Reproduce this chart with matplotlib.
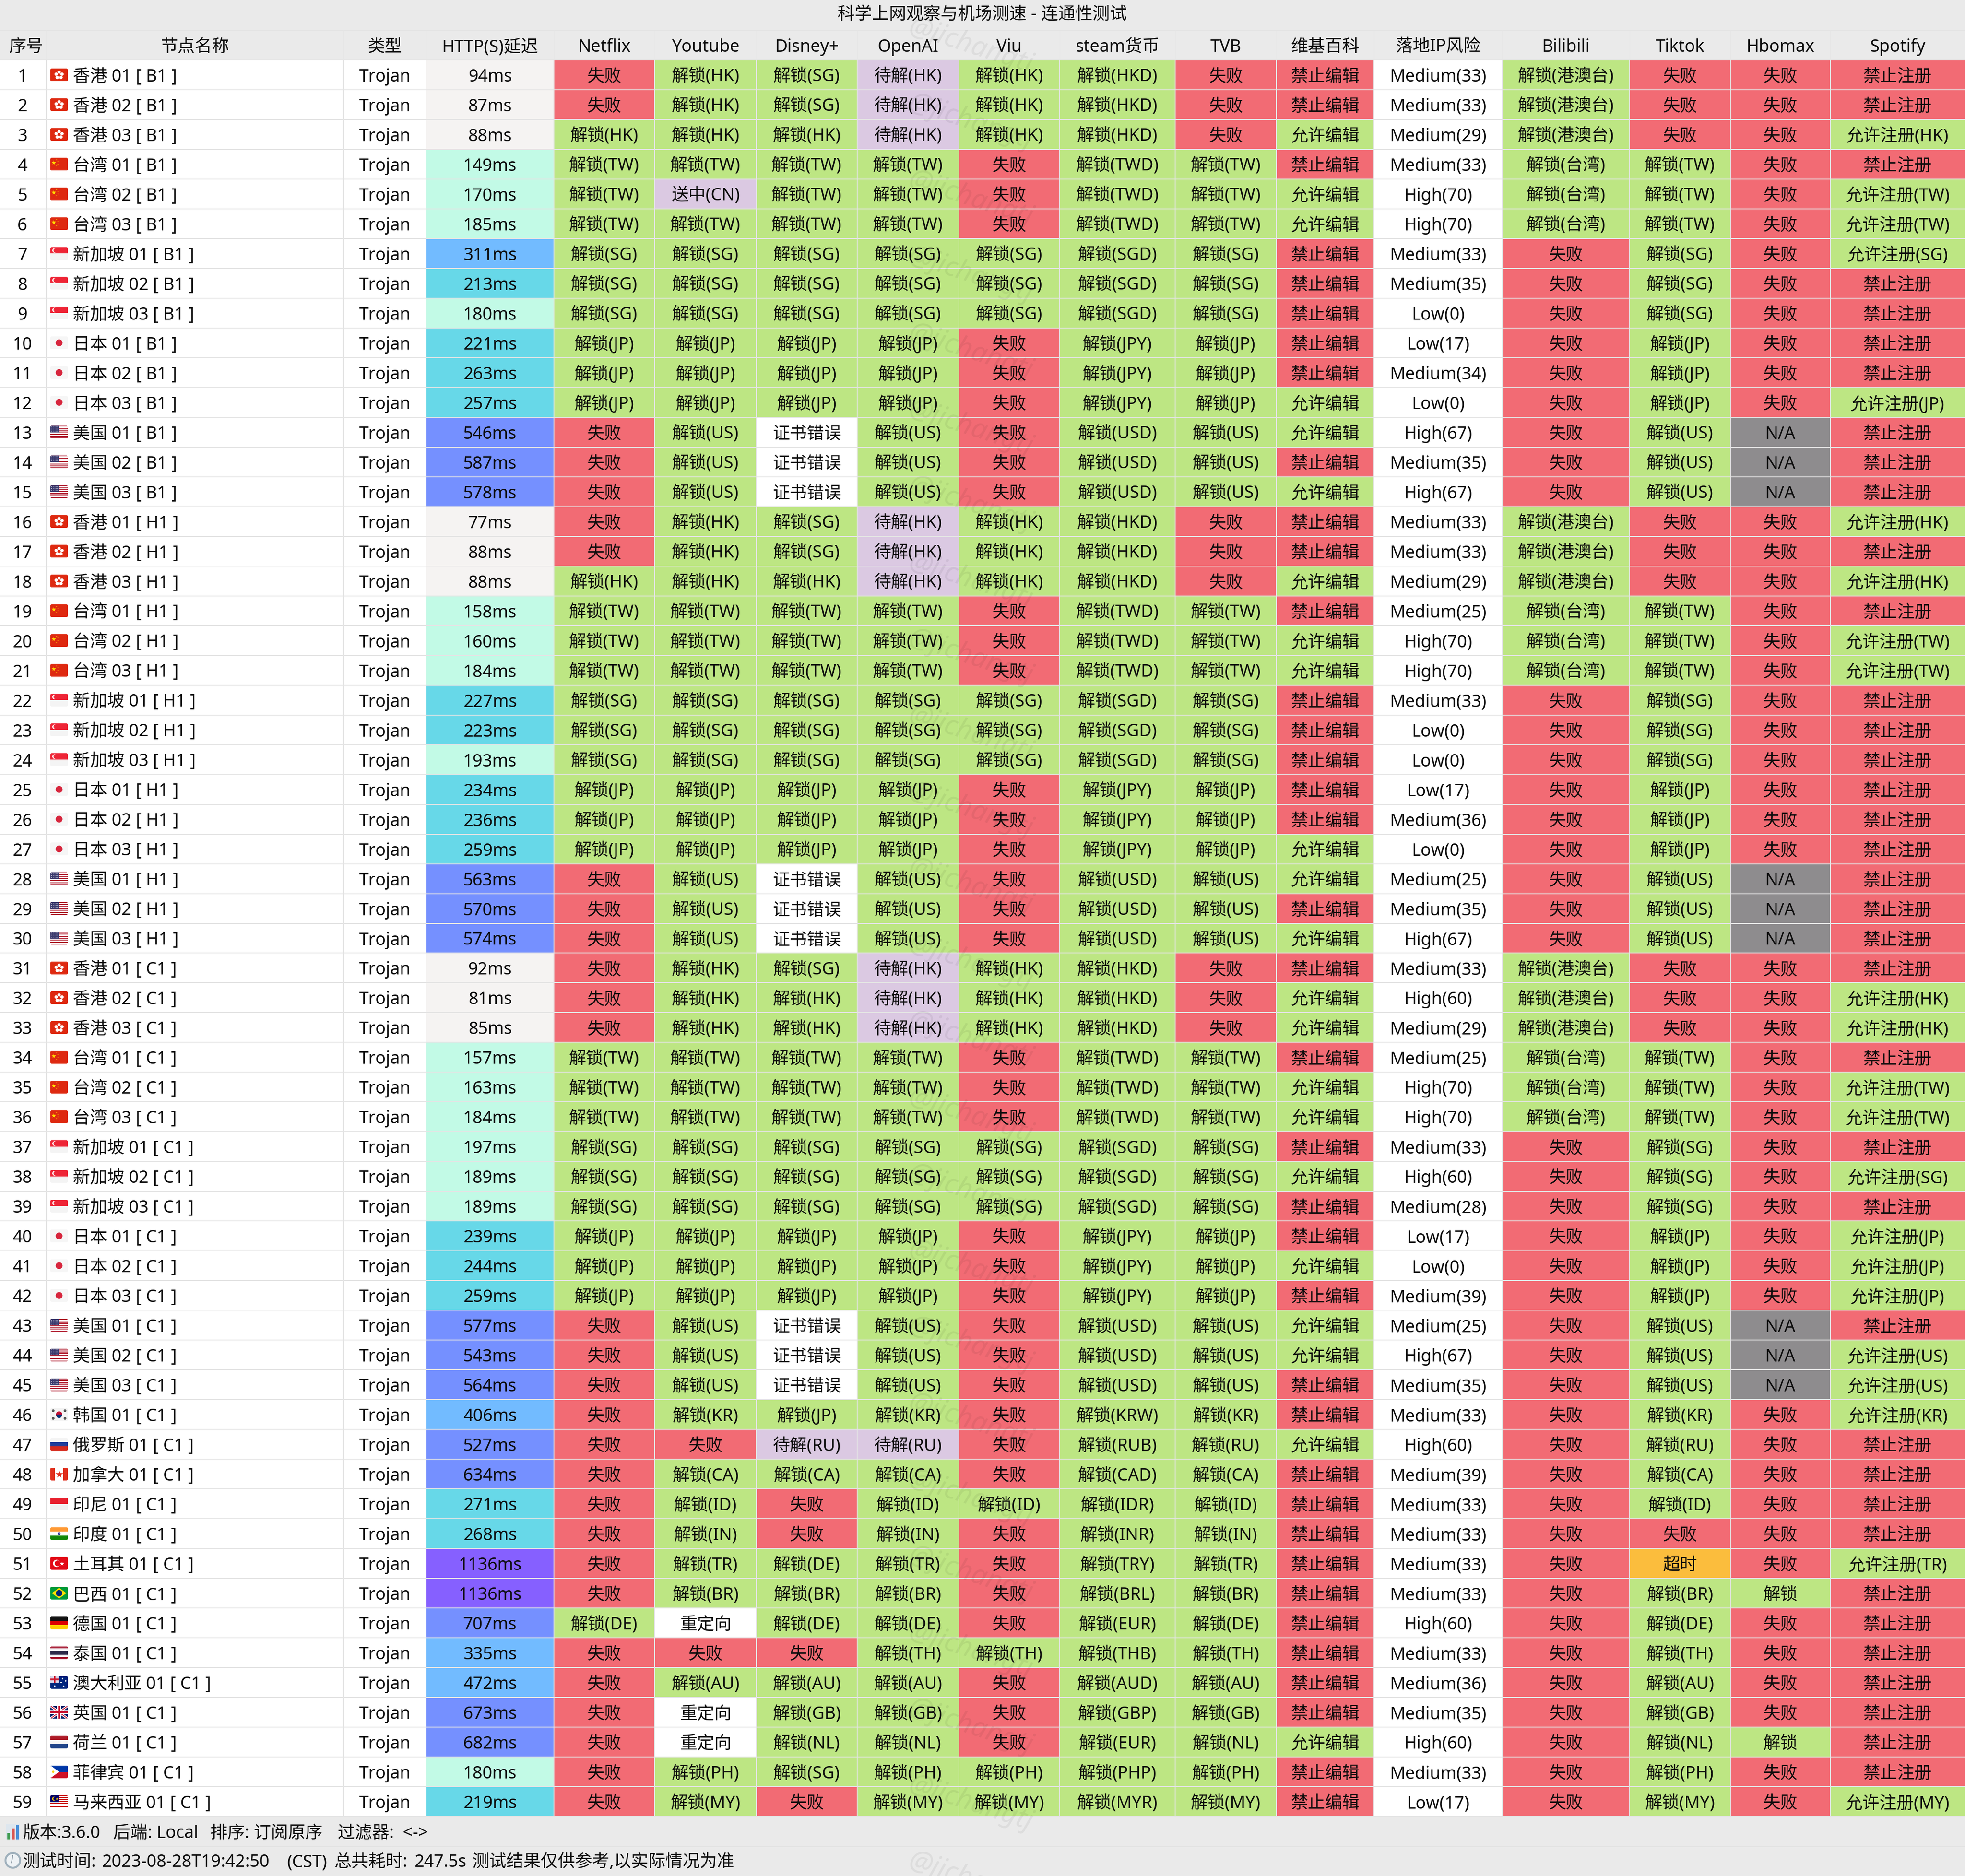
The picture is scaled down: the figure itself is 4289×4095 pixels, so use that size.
#!/usr/bin/env python3
import matplotlib
matplotlib.use('Agg')
import matplotlib.pyplot as plt
from matplotlib.patches import Rectangle, Circle, Polygon, FancyBboxPatch

plt.rcParams['font.family'] = ['Noto Sans', 'Noto Sans CJK SC', 'DejaVu Sans']

title = '科学上网观察与机场测速 - 连通性测试'
footer1 = ['版本:3.6.0', '后端: Local', '排序: 订阅原序', '过滤器:  <->']
footer2 = ['测试时间:', '2023-08-28T19:42:50', '(CST)', '总共耗时:', '247.5s', '测试结果仅供参考,以实际情况为准']
watermark = '@jichangtj'

headers = ['序号', '节点名称', '类型', 'HTTP(S)延迟', 'Netflix', 'Youtube', 'Disney+', 'OpenAI', 'Viu',
           'steam货币', 'TVB', '维基百科', '落地IP风险', 'Bilibili', 'Tiktok', 'Hbomax', 'Spotify']

regions = """香港 香港 香港 台湾 台湾 台湾 新加坡 新加坡 新加坡 日本 日本 日本 美国 美国 美国
香港 香港 香港 台湾 台湾 台湾 新加坡 新加坡 新加坡 日本 日本 日本 美国 美国 美国
香港 香港 香港 台湾 台湾 台湾 新加坡 新加坡 新加坡 日本 日本 日本 美国 美国 美国
韩国 俄罗斯 加拿大 印尼 印度 土耳其 巴西 德国 泰国 澳大利亚 英国 荷兰 菲律宾 马来西亚""".split()
node_nums = """01 02 03 01 02 03 01 02 03 01 02 03 01 02 03
01 02 03 01 02 03 01 02 03 01 02 03 01 02 03
01 02 03 01 02 03 01 02 03 01 02 03 01 02 03
01 01 01 01 01 01 01 01 01 01 01 01 01 01""".split()
node_tags = """B1 B1 B1 B1 B1 B1 B1 B1 B1 B1 B1 B1 B1 B1 B1
H1 H1 H1 H1 H1 H1 H1 H1 H1 H1 H1 H1 H1 H1 H1
C1 C1 C1 C1 C1 C1 C1 C1 C1 C1 C1 C1 C1 C1 C1
C1 C1 C1 C1 C1 C1 C1 C1 C1 C1 C1 C1 C1 C1""".split()

latency = [94, 87, 88, 149, 170, 185, 311, 213, 180, 221, 263, 257, 546, 587, 578,
           77, 88, 88, 158, 160, 184, 227, 223, 193, 234, 236, 259, 563, 570, 574,
           92, 81, 85, 157, 163, 184, 197, 189, 189, 239, 244, 259, 577, 543, 564,
           406, 527, 634, 271, 268, 1136, 1136, 707, 335, 472, 673, 682, 180, 219]

netflix = """失败 失败 解锁(HK) 解锁(TW) 解锁(TW) 解锁(TW) 解锁(SG) 解锁(SG) 解锁(SG) 解锁(JP) 解锁(JP) 解锁(JP) 失败 失败 失败
失败 失败 解锁(HK) 解锁(TW) 解锁(TW) 解锁(TW) 解锁(SG) 解锁(SG) 解锁(SG) 解锁(JP) 解锁(JP) 解锁(JP) 失败 失败 失败
失败 失败 失败 解锁(TW) 解锁(TW) 解锁(TW) 解锁(SG) 解锁(SG) 解锁(SG) 解锁(JP) 解锁(JP) 解锁(JP) 失败 失败 失败
失败 失败 失败 失败 失败 失败 失败 解锁(DE) 失败 失败 失败 失败 失败 失败""".split()
youtube = """解锁(HK) 解锁(HK) 解锁(HK) 解锁(TW) 送中(CN) 解锁(TW) 解锁(SG) 解锁(SG) 解锁(SG) 解锁(JP) 解锁(JP) 解锁(JP) 解锁(US) 解锁(US) 解锁(US)
解锁(HK) 解锁(HK) 解锁(HK) 解锁(TW) 解锁(TW) 解锁(TW) 解锁(SG) 解锁(SG) 解锁(SG) 解锁(JP) 解锁(JP) 解锁(JP) 解锁(US) 解锁(US) 解锁(US)
解锁(HK) 解锁(HK) 解锁(HK) 解锁(TW) 解锁(TW) 解锁(TW) 解锁(SG) 解锁(SG) 解锁(SG) 解锁(JP) 解锁(JP) 解锁(JP) 解锁(US) 解锁(US) 解锁(US)
解锁(KR) 失败 解锁(CA) 解锁(ID) 解锁(IN) 解锁(TR) 解锁(BR) 重定向 失败 解锁(AU) 重定向 重定向 解锁(PH) 解锁(MY)""".split()
disney = """解锁(SG) 解锁(SG) 解锁(HK) 解锁(TW) 解锁(TW) 解锁(TW) 解锁(SG) 解锁(SG) 解锁(SG) 解锁(JP) 解锁(JP) 解锁(JP) 证书错误 证书错误 证书错误
解锁(SG) 解锁(SG) 解锁(HK) 解锁(TW) 解锁(TW) 解锁(TW) 解锁(SG) 解锁(SG) 解锁(SG) 解锁(JP) 解锁(JP) 解锁(JP) 证书错误 证书错误 证书错误
解锁(SG) 解锁(HK) 解锁(HK) 解锁(TW) 解锁(TW) 解锁(TW) 解锁(SG) 解锁(SG) 解锁(SG) 解锁(JP) 解锁(JP) 解锁(JP) 证书错误 证书错误 证书错误
解锁(JP) 待解(RU) 解锁(CA) 失败 失败 解锁(DE) 解锁(BR) 解锁(DE) 失败 解锁(AU) 解锁(GB) 解锁(NL) 解锁(SG) 失败""".split()
openai = """待解(HK) 待解(HK) 待解(HK) 解锁(TW) 解锁(TW) 解锁(TW) 解锁(SG) 解锁(SG) 解锁(SG) 解锁(JP) 解锁(JP) 解锁(JP) 解锁(US) 解锁(US) 解锁(US)
待解(HK) 待解(HK) 待解(HK) 解锁(TW) 解锁(TW) 解锁(TW) 解锁(SG) 解锁(SG) 解锁(SG) 解锁(JP) 解锁(JP) 解锁(JP) 解锁(US) 解锁(US) 解锁(US)
待解(HK) 待解(HK) 待解(HK) 解锁(TW) 解锁(TW) 解锁(TW) 解锁(SG) 解锁(SG) 解锁(SG) 解锁(JP) 解锁(JP) 解锁(JP) 解锁(US) 解锁(US) 解锁(US)
解锁(KR) 待解(RU) 解锁(CA) 解锁(ID) 解锁(IN) 解锁(TR) 解锁(BR) 解锁(DE) 解锁(TH) 解锁(AU) 解锁(GB) 解锁(NL) 解锁(PH) 解锁(MY)""".split()
viu = """解锁(HK) 解锁(HK) 解锁(HK) 失败 失败 失败 解锁(SG) 解锁(SG) 解锁(SG) 失败 失败 失败 失败 失败 失败
解锁(HK) 解锁(HK) 解锁(HK) 失败 失败 失败 解锁(SG) 解锁(SG) 解锁(SG) 失败 失败 失败 失败 失败 失败
解锁(HK) 解锁(HK) 解锁(HK) 失败 失败 失败 解锁(SG) 解锁(SG) 解锁(SG) 失败 失败 失败 失败 失败 失败
失败 失败 失败 解锁(ID) 失败 失败 失败 失败 解锁(TH) 失败 失败 失败 解锁(PH) 解锁(MY)""".split()
steam = """解锁(HKD) 解锁(HKD) 解锁(HKD) 解锁(TWD) 解锁(TWD) 解锁(TWD) 解锁(SGD) 解锁(SGD) 解锁(SGD) 解锁(JPY) 解锁(JPY) 解锁(JPY) 解锁(USD) 解锁(USD) 解锁(USD)
解锁(HKD) 解锁(HKD) 解锁(HKD) 解锁(TWD) 解锁(TWD) 解锁(TWD) 解锁(SGD) 解锁(SGD) 解锁(SGD) 解锁(JPY) 解锁(JPY) 解锁(JPY) 解锁(USD) 解锁(USD) 解锁(USD)
解锁(HKD) 解锁(HKD) 解锁(HKD) 解锁(TWD) 解锁(TWD) 解锁(TWD) 解锁(SGD) 解锁(SGD) 解锁(SGD) 解锁(JPY) 解锁(JPY) 解锁(JPY) 解锁(USD) 解锁(USD) 解锁(USD)
解锁(KRW) 解锁(RUB) 解锁(CAD) 解锁(IDR) 解锁(INR) 解锁(TRY) 解锁(BRL) 解锁(EUR) 解锁(THB) 解锁(AUD) 解锁(GBP) 解锁(EUR) 解锁(PHP) 解锁(MYR)""".split()
tvb = """失败 失败 失败 解锁(TW) 解锁(TW) 解锁(TW) 解锁(SG) 解锁(SG) 解锁(SG) 解锁(JP) 解锁(JP) 解锁(JP) 解锁(US) 解锁(US) 解锁(US)
失败 失败 失败 解锁(TW) 解锁(TW) 解锁(TW) 解锁(SG) 解锁(SG) 解锁(SG) 解锁(JP) 解锁(JP) 解锁(JP) 解锁(US) 解锁(US) 解锁(US)
失败 失败 失败 解锁(TW) 解锁(TW) 解锁(TW) 解锁(SG) 解锁(SG) 解锁(SG) 解锁(JP) 解锁(JP) 解锁(JP) 解锁(US) 解锁(US) 解锁(US)
解锁(KR) 解锁(RU) 解锁(CA) 解锁(ID) 解锁(IN) 解锁(TR) 解锁(BR) 解锁(DE) 解锁(TH) 解锁(AU) 解锁(GB) 解锁(NL) 解锁(PH) 解锁(MY)""".split()
wiki = """禁止编辑 禁止编辑 允许编辑 禁止编辑 允许编辑 允许编辑 禁止编辑 禁止编辑 禁止编辑 禁止编辑 禁止编辑 允许编辑 允许编辑 禁止编辑 允许编辑
禁止编辑 禁止编辑 允许编辑 禁止编辑 允许编辑 允许编辑 禁止编辑 禁止编辑 禁止编辑 禁止编辑 禁止编辑 允许编辑 允许编辑 禁止编辑 允许编辑
禁止编辑 允许编辑 允许编辑 禁止编辑 允许编辑 允许编辑 禁止编辑 允许编辑 禁止编辑 禁止编辑 允许编辑 禁止编辑 允许编辑 允许编辑 禁止编辑
禁止编辑 允许编辑 禁止编辑 禁止编辑 禁止编辑 禁止编辑 禁止编辑 禁止编辑 禁止编辑 禁止编辑 禁止编辑 允许编辑 禁止编辑 禁止编辑""".split()
ip_risk = """Medium(33) Medium(33) Medium(29) Medium(33) High(70) High(70) Medium(33) Medium(35) Low(0) Low(17) Medium(34) Low(0) High(67) Medium(35) High(67)
Medium(33) Medium(33) Medium(29) Medium(25) High(70) High(70) Medium(33) Low(0) Low(0) Low(17) Medium(36) Low(0) Medium(25) Medium(35) High(67)
Medium(33) High(60) Medium(29) Medium(25) High(70) High(70) Medium(33) High(60) Medium(28) Low(17) Low(0) Medium(39) Medium(25) High(67) Medium(35)
Medium(33) High(60) Medium(39) Medium(33) Medium(33) Medium(33) Medium(33) High(60) Medium(33) Medium(36) Medium(35) High(60) Medium(33) Low(17)""".split()
bilibili = """解锁(港澳台) 解锁(港澳台) 解锁(港澳台) 解锁(台湾) 解锁(台湾) 解锁(台湾) 失败 失败 失败 失败 失败 失败 失败 失败 失败
解锁(港澳台) 解锁(港澳台) 解锁(港澳台) 解锁(台湾) 解锁(台湾) 解锁(台湾) 失败 失败 失败 失败 失败 失败 失败 失败 失败
解锁(港澳台) 解锁(港澳台) 解锁(港澳台) 解锁(台湾) 解锁(台湾) 解锁(台湾) 失败 失败 失败 失败 失败 失败 失败 失败 失败
失败 失败 失败 失败 失败 失败 失败 失败 失败 失败 失败 失败 失败 失败""".split()
tiktok = """失败 失败 失败 解锁(TW) 解锁(TW) 解锁(TW) 解锁(SG) 解锁(SG) 解锁(SG) 解锁(JP) 解锁(JP) 解锁(JP) 解锁(US) 解锁(US) 解锁(US)
失败 失败 失败 解锁(TW) 解锁(TW) 解锁(TW) 解锁(SG) 解锁(SG) 解锁(SG) 解锁(JP) 解锁(JP) 解锁(JP) 解锁(US) 解锁(US) 解锁(US)
失败 失败 失败 解锁(TW) 解锁(TW) 解锁(TW) 解锁(SG) 解锁(SG) 解锁(SG) 解锁(JP) 解锁(JP) 解锁(JP) 解锁(US) 解锁(US) 解锁(US)
解锁(KR) 解锁(RU) 解锁(CA) 解锁(ID) 失败 超时 解锁(BR) 解锁(DE) 解锁(TH) 解锁(AU) 解锁(GB) 解锁(NL) 解锁(PH) 解锁(MY)""".split()
hbomax = """失败 失败 失败 失败 失败 失败 失败 失败 失败 失败 失败 失败 N/A N/A N/A
失败 失败 失败 失败 失败 失败 失败 失败 失败 失败 失败 失败 N/A N/A N/A
失败 失败 失败 失败 失败 失败 失败 失败 失败 失败 失败 失败 N/A N/A N/A
失败 失败 失败 失败 失败 失败 解锁 失败 失败 失败 失败 解锁 失败 失败""".split()
spotify = """禁止注册 禁止注册 允许注册(HK) 禁止注册 允许注册(TW) 允许注册(TW) 允许注册(SG) 禁止注册 禁止注册 禁止注册 禁止注册 允许注册(JP) 禁止注册 禁止注册 禁止注册
允许注册(HK) 禁止注册 允许注册(HK) 禁止注册 允许注册(TW) 允许注册(TW) 禁止注册 禁止注册 禁止注册 禁止注册 禁止注册 禁止注册 禁止注册 禁止注册 禁止注册
禁止注册 允许注册(HK) 允许注册(HK) 禁止注册 允许注册(TW) 允许注册(TW) 禁止注册 允许注册(SG) 禁止注册 允许注册(JP) 允许注册(JP) 允许注册(JP) 禁止注册 允许注册(US) 允许注册(US)
允许注册(KR) 禁止注册 禁止注册 禁止注册 禁止注册 允许注册(TR) 禁止注册 禁止注册 禁止注册 禁止注册 禁止注册 禁止注册 禁止注册 允许注册(MY)""".split()

# layout in pixels of the screenshot
W, H = 4289, 4095
col_edges = [0, 101, 750, 930, 1209, 1429, 1651, 1871, 2093, 2313, 2565, 2786, 2999, 3279, 3557, 3777, 3995, 4289]
head_top, table_top, table_bottom = 66, 131, 3965
row_h = (table_bottom - table_top) / len(latency)
FS = 27

RED, GREEN, PURPLE, WHITE = '#F26B74', '#BDE683', '#DBC9E2', '#FFFFFF'
GRAY, ORANGE, BAND, LINE = '#8E8C8E', '#FBBD3D', '#EAEAEA', '#E4E4E4'
INK = '#0C0C0C'


def status_color(s):
    if s.startswith(('失败', '禁止')):
        return RED
    if s.startswith(('解锁', '允许')):
        return GREEN
    if s.startswith(('待解', '送中')):
        return PURPLE
    if s == 'N/A':
        return GRAY
    if s == '超时':
        return ORANGE
    return WHITE


def latency_color(ms):
    if ms < 100:
        return '#F5F3F2'
    if ms < 200:
        return '#C2FAE6'
    if ms < 300:
        return '#67D8E8'
    if ms < 500:
        return '#72BBFF'
    if ms < 1000:
        return '#7590FF'
    return '#8660FF'


def draw_flag(ax, region, yc):
    x0, y0, w, h = 110, yc - 14, 38, 28
    clip = FancyBboxPatch((x0, y0), w, h, boxstyle='round,pad=0,rounding_size=3', fc='none', ec='none')
    ax.add_patch(clip)

    def add(p):
        p.set_zorder(3)
        ax.add_patch(p)
        p.set_clip_path(clip)

    def rect(u, v, du, dv, c):
        add(Rectangle((x0 + u * w, y0 + v * h), du * w, dv * h, fc=c, ec='none'))

    def circ(u, v, r, c):
        add(Circle((x0 + u * w, y0 + v * h), r, fc=c, ec='none'))

    def poly(pts, c):
        add(Polygon([(x0 + u * w, y0 + v * h) for u, v in pts], fc=c, ec='none'))

    def stripes(cs):
        for i, c in enumerate(cs):
            rect(0, i / len(cs), 1, 1 / len(cs), c)

    def star(u, v, ms, c):
        ax.plot(x0 + u * w, y0 + v * h, marker='*', ms=ms, color=c, mec='none', zorder=3.5)

    if region == '香港':
        rect(0, 0, 1, 1, '#DE2910')
        for du, dv in [(0, -.22), (.17, -.06), (.11, .2), (-.11, .2), (-.17, -.06)]:
            circ(.5 + du, .5 + dv, 3.6, '#FFFFFF')
    elif region == '台湾':
        rect(0, 0, 1, 1, '#DE2910')
        star(.18, .38, 8, '#FFDE00')
        for u, v in [(.36, .16), (.43, .3), (.43, .5), (.36, .64)]:
            circ(u, v, .9, '#FFDE00')
    elif region == '新加坡':
        stripes(['#EE2536', '#F4F4F4'])
        circ(.24, .26, 5, '#FFFFFF')
        circ(.3, .26, 4.6, '#EE2536')
    elif region == '日本':
        rect(0, 0, 1, 1, '#F6F6F6')
        circ(.5, .5, 7.5, '#D7263D')
    elif region == '美国':
        stripes(['#B22234', '#FFFFFF'] * 6 + ['#B22234'])
        rect(0, 0, .48, .52, '#3C3B6E')
        for u in (.08, .2, .32, .42):
            for v in (.1, .26, .42):
                circ(u, v, .8, '#FFFFFF')
    elif region == '韩国':
        rect(0, 0, 1, 1, '#F4F4F4')
        circ(.5, .5, 7, '#C60C30')
        poly([(.33, .5), (.67, .5), (.62, .72), (.5, .78), (.38, .72)], '#003478')
        for u, v in [(.16, .2), (.84, .2), (.16, .8), (.84, .8)]:
            circ(u, v, 3, '#555555')
    elif region == '俄罗斯':
        stripes(['#F4F4F4', '#1F3E9C', '#D52B1E'])
    elif region == '加拿大':
        rect(0, 0, 1, 1, '#FFFFFF')
        rect(0, 0, .26, 1, '#E0301E')
        rect(.74, 0, .26, 1, '#E0301E')
        star(.5, .5, 13, '#E0301E')
    elif region == '印尼':
        stripes(['#E8202E', '#F0F0F0'])
    elif region == '印度':
        stripes(['#FF9933', '#FFFFFF', '#138808'])
        circ(.5, .5, 3.2, '#000080')
        circ(.5, .5, 1.6, '#FFFFFF')
    elif region == '土耳其':
        rect(0, 0, 1, 1, '#E30A17')
        circ(.36, .5, 8, '#FFFFFF')
        circ(.42, .5, 6.4, '#E30A17')
        star(.66, .5, 7, '#FFFFFF')
    elif region == '巴西':
        rect(0, 0, 1, 1, '#009B3A')
        poly([(.08, .5), (.5, .08), (.92, .5), (.5, .92)], '#FEDF00')
        circ(.5, .5, 7, '#002776')
    elif region == '德国':
        stripes(['#111111', '#DD0000', '#FFCE00'])
    elif region == '泰国':
        for v, dv, c in [(0, .17, '#A51931'), (.17, .16, '#F4F5F8'), (.33, .34, '#2D2A4A'),
                         (.67, .16, '#F4F5F8'), (.83, .17, '#A51931')]:
            rect(0, v, 1, dv, c)
    elif region == '澳大利亚':
        rect(0, 0, 1, 1, '#00247D')
        rect(0, 0, .5, .52, '#DDDDEE')
        rect(.2, 0, .1, .52, '#CC142B')
        rect(0, .2, .5, .12, '#CC142B')
        for u, v in [(.7, .2), (.88, .38), (.62, .5), (.76, .8), (.25, .78)]:
            circ(u, v, 1.6, '#FFFFFF')
    elif region == '英国':
        rect(0, 0, 1, 1, '#012169')
        poly([(0, 0), (.12, 0), (1, .88), (1, 1), (.88, 1), (0, .12)], '#FFFFFF')
        poly([(1, 0), (1, .12), (.12, 1), (0, 1), (0, .88), (.88, 0)], '#FFFFFF')
        poly([(0, .04), (.04, 0), (1, .96), (.96, 1)], '#C8102E')
        poly([(1, .04), (.96, 0), (0, .96), (.04, 1)], '#C8102E')
        rect(.38, 0, .24, 1, '#FFFFFF')
        rect(0, .34, 1, .32, '#FFFFFF')
        rect(.44, 0, .12, 1, '#C8102E')
        rect(0, .42, 1, .16, '#C8102E')
    elif region == '荷兰':
        stripes(['#AE1C28', '#F6F6F6', '#21468B'])
    elif region == '菲律宾':
        stripes(['#0038A8', '#CE1126'])
        poly([(0, 0), (.5, .5), (0, 1)], '#FFFFFF')
        circ(.16, .5, 2.5, '#FCD116')
    elif region == '马来西亚':
        stripes(['#CC0001', '#FFFFFF'] * 7)
        rect(0, 0, .5, .57, '#010066')
        circ(.22, .28, 4.5, '#FFCC00')
        circ(.27, .28, 3.8, '#010066')
        star(.36, .28, 5, '#FFCC00')


fig = plt.figure(figsize=(W / 100, H / 100), dpi=100, facecolor=BAND)
ax = fig.add_axes([0, 0, 1, 1])
ax.set_xlim(0, W)
ax.set_ylim(H, 0)
ax.axis('off')

rows = len(latency)
tops = [table_top + i * row_h for i in range(rows)]
centers = [t + row_h / 2 for t in tops]
names = [f'{r} {n} [ {t} ]' for r, n, t in zip(regions, node_nums, node_tags)]

# table background, the gaps between the cells show through as grid lines
ax.barh((table_top + table_bottom) / 2, W, height=table_bottom - table_top + 2, color=LINE, zorder=1)
ax.hlines(head_top, 0, W, color='#E3E3E3', lw=1.4, zorder=1)
ax.hlines(table_bottom + 66, 0, W, color='#E3E3E3', lw=1.4, zorder=1)
ax.vlines(col_edges[1:-1], head_top, table_top, color='#E6E6E6', lw=1, zorder=1)

status_cols = [netflix, youtube, disney, openai, viu, steam, tvb, wiki, None, bilibili, tiktok, hbomax, spotify]


def draw_cells(col, colors):
    left, right = col_edges[col], col_edges[col + 1]
    ax.barh(centers, right - left - 2, left=left + 1, height=row_h - 2, color=colors, zorder=2)


draw_cells(0, [WHITE] * rows)
draw_cells(1, [WHITE] * rows)
draw_cells(2, [WHITE] * rows)
draw_cells(3, [latency_color(ms) for ms in latency])
for k, values in enumerate(status_cols):
    draw_cells(4 + k, [WHITE] * rows if values is None else [status_color(s) for s in values])

base = 14.5
txt = dict(color=INK, fontsize=FS, va='baseline', ha='center', zorder=4)

ax.text(2144, 41, title, **txt)
mids = [(a + b) / 2 for a, b in zip(col_edges[:-1], col_edges[1:])]
mids[0] = 57
for x, h in zip(mids, headers):
    ax.text(x, 113, h, **txt)

for i, yc in enumerate(centers):
    y = yc + base
    ax.text(49, y, str(i + 1), **txt)
    draw_flag(ax, regions[i], yc)
    ax.text(159, y, names[i], color=INK, fontsize=FS, va='baseline', ha='left', zorder=4)
    ax.text(mids[2], y, 'Trojan', **txt)
    ax.text(mids[3], y, f'{latency[i]}ms', **txt)
    for k, values in enumerate(status_cols):
        s = ip_risk[i] if values is None else values[i]
        ax.text(mids[4 + k], y, s, **txt)

# footer, the segments sit where the screenshot has them
for x, s in zip([50, 247, 459, 737], footer1):
    ax.text(x, 4012, s, color=INK, fontsize=FS, va='baseline', ha='left', zorder=4)
for x, s in zip([50, 222, 627, 729, 904, 1031], footer2):
    ax.text(x, 4075, s, color=INK, fontsize=FS, va='baseline', ha='left', zorder=4)
ax.add_patch(Rectangle((13, 3982), 30, 33, fc='#DDE6EE', ec='none', zorder=3))
ax.bar([19, 29, 38], [-14, -24, -31], width=6, bottom=4015, color=['#3E9B4F', '#D9534F', '#4A90D9'], zorder=3.2)
ax.add_patch(Circle((28, 4061), 16, fc='#EEF2F5', ec='#9FB0BC', lw=3, zorder=3))
ax.plot([28, 25], [4050, 4066], color='#8A98A3', lw=1.5, zorder=3.2)

# faint repeated watermark over the screenshot
for k in range(25):
    ax.text(1985, 57 + k * 166.8, watermark, family='Noto Sans', style='italic', fontsize=43, color='black',
            alpha=0.06, rotation=-18, rotation_mode='anchor', ha='left', va='center', zorder=6)

fig.savefig('out.png', dpi=100)
